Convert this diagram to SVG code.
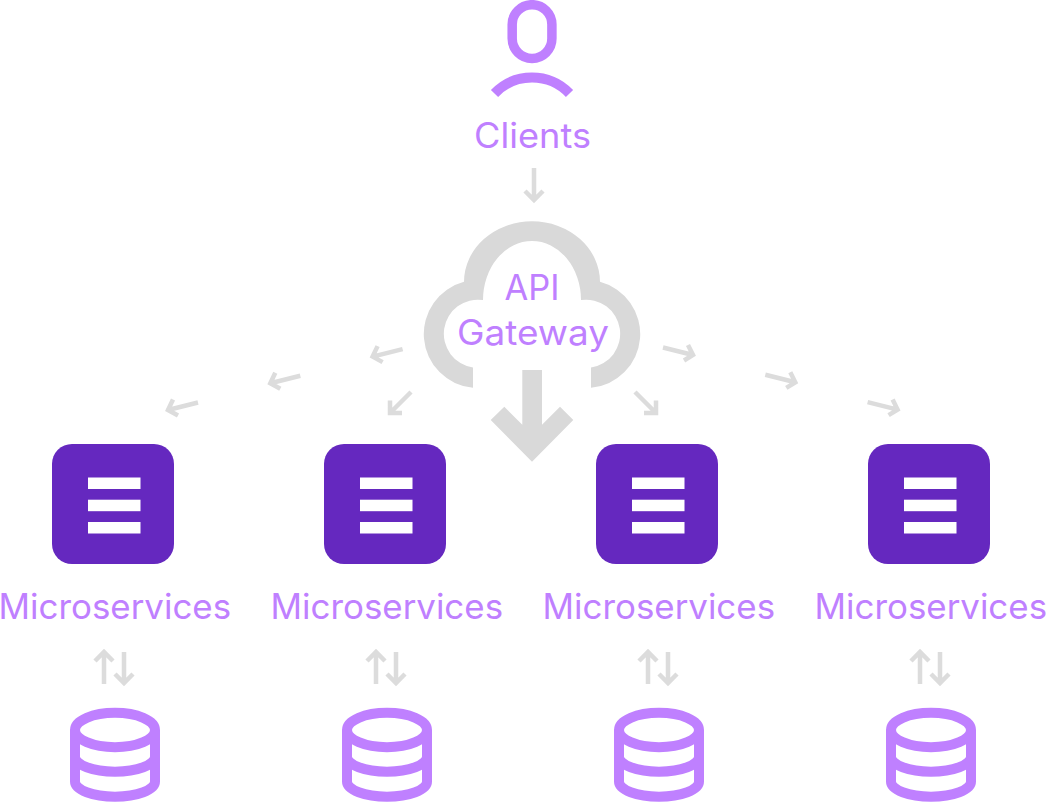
<svg xmlns="http://www.w3.org/2000/svg" width="1046" height="802" viewBox="0 0 1046 802">
<style>
text{font-family:"Inter","Noto Sans",sans-serif;font-size:35px;font-weight:400;fill:#bf80ff}
.ln{fill:none;stroke:#bf80ff;stroke-width:10}
.ar{fill:none;stroke:#dcdcdc;stroke-width:4.5}
.bx{fill:#6528bf}
.br{fill:#fff}
</style>
<defs>
<g id="dia"><path d="M198 402.5L168 410M173 399.5L168 410L178 415.5"/></g>
<g id="dib"><path d="M663 347.5L693 355M688 345L693 355L684 360.5"/></g>
<g id="svc"><rect class="bx" x="52" y="444" width="122" height="120" rx="20"/><rect class="br" x="88" y="477.5" width="52.500" height="11.500"/><rect class="br" x="88" y="499.700" width="52.500" height="11.500"/><rect class="br" x="88" y="522" width="52.500" height="11.500"/></g>
<g id="db"><ellipse class="ln" cx="115" cy="730" rx="40" ry="17.200"/><path class="ln" d="M75 730V781.500A40 15.200 0 0 0 155 781.500V730M75 756.500A40 15.200 0 0 0 155 756.500"/></g>
<g id="ud"><path d="M104 684V653M95 661L104 652L113 661M124 652V683M115 674L124 683L133 674"/></g>
</defs>
<g id="connectors">
<path class="ar" d="M534 168V199M525 191L534 200L543 191"/>
<path fill="#d9d9d9" d="M522.300 370H542V424.700L560 406.700L573.300 420L532 461.700L490.700 420L504.300 406.700L522.300 424.700Z"/>
<g class="ar">
<use href="#dia"/><use href="#dia" x="102.300" y="-26.700"/><use href="#dia" x="204.600" y="-53.400"/>
<use href="#dib"/><use href="#dib" x="102.300" y="27.300"/><use href="#dib" x="204.600" y="54.600"/>
<path d="M411 392L390 413M390 400.500V413H402"/>
<path d="M635 392L656 413M656 400.500V413H644"/>
<use href="#ud"/><use href="#ud" x="272"/><use href="#ud" x="544"/><use href="#ud" x="816"/>
</g>
</g>
<g id="clients">
<rect x="512.200" y="4.700" width="39.700" height="53.700" rx="19.800" fill="none" stroke="#bf80ff" stroke-width="9.500"/>
<path class="ln" d="M494.500 93.500A52 52 0 0 1 569.500 93.500"/>
<text x="532.500" y="148" text-anchor="middle" textLength="117" lengthAdjust="spacingAndGlyphs">Clients</text>
</g>
<g id="gateway">
<path fill="#d9d9d9" d="M473 387.800A54 54 0 0 1 464 281.800A68 60.500 0 0 1 600 281.800A54 54 0 0 1 591 387.800V367.600A34 34 0 0 0 581 300A49 59 0 1 0 483 300A34 34 0 0 0 473 367.600Z"/>
<text x="532" y="300" text-anchor="middle" textLength="55" lengthAdjust="spacingAndGlyphs">API</text>
<text x="533" y="345" text-anchor="middle" textLength="152" lengthAdjust="spacingAndGlyphs">Gateway</text>
</g>
<g id="svc1"><use href="#svc"/><text x="114.800" y="619.300" text-anchor="middle" textLength="232.500" lengthAdjust="spacingAndGlyphs">Microservices</text></g>
<g id="svc2"><use href="#svc" x="272"/><text x="386.800" y="619.300" text-anchor="middle" textLength="232.500" lengthAdjust="spacingAndGlyphs">Microservices</text></g>
<g id="svc3"><use href="#svc" x="544"/><text x="658.800" y="619.300" text-anchor="middle" textLength="232.500" lengthAdjust="spacingAndGlyphs">Microservices</text></g>
<g id="svc4"><use href="#svc" x="816"/><text x="930.800" y="619.300" text-anchor="middle" textLength="232.500" lengthAdjust="spacingAndGlyphs">Microservices</text></g>
<g id="db1"><use href="#db"/></g>
<g id="db2"><use href="#db" x="272"/></g>
<g id="db3"><use href="#db" x="544"/></g>
<g id="db4"><use href="#db" x="816"/></g>
</svg>
